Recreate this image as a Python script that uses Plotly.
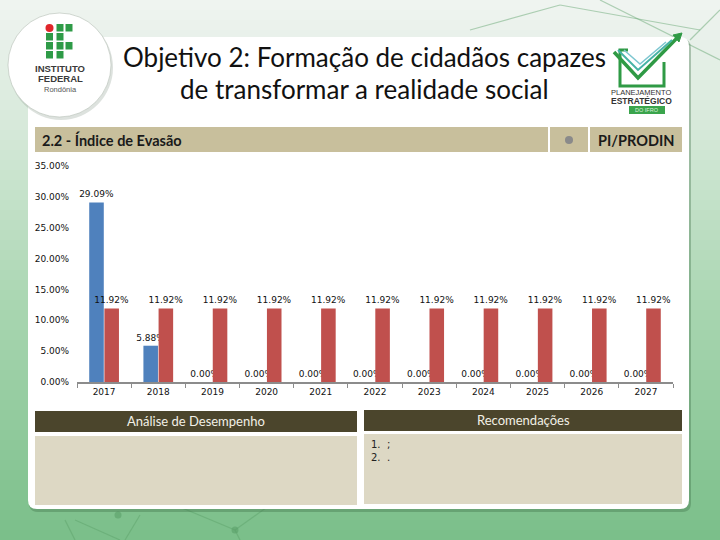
import plotly.graph_objects as go

# ---------------- data ----------------
years = ["2017", "2018", "2019", "2020", "2021", "2022", "2023", "2024", "2025", "2026", "2027"]
realizado = [29.09, 5.88, 0.00, 0.00, 0.00, 0.00, 0.00, 0.00, 0.00, 0.00, 0.00]
meta = [11.92, 11.92, 11.92, 11.92, 11.92, 11.92, 11.92, 11.92, 11.92, 11.92, 11.92]
y_ticks = [0, 5, 10, 15, 20, 25, 30, 35]

W, H = 720, 540


def px(x):
    return x / W


def py(y):
    return 1 - y / H


shapes = []
annotations = []

# ---------------- background gradient ----------------
stops = [(0, (240, 244, 241)), (120, (216, 234, 219)), (300, (170, 214, 178)), (540, (122, 191, 137))]


def grad(y):
    for (y0, c0), (y1, c1) in zip(stops[:-1], stops[1:]):
        if y0 <= y <= y1:
            t = (y - y0) / (y1 - y0)
            return "rgb(%d,%d,%d)" % tuple(round(a + (b - a) * t) for a, b in zip(c0, c1))
    return "rgb(%d,%d,%d)" % stops[-1][1]


step = 10
for y in range(0, H, step):
    shapes.append(dict(type="rect", xref="paper", yref="paper", layer="below",
                       x0=0, x1=1, y0=py(y + step + 1), y1=py(y),
                       fillcolor=grad(y + step / 2), line=dict(width=0)))

# faint network lines
net = [((470, 30), (560, 5)), ((560, 5), (700, 30)), ((600, 0), (720, 60)), ((690, 40), (720, 10)),
       ((65, 520), (75, 540)), ((75, 520), (120, 540)), ((140, 515), (125, 540)),
       ((175, 505), (235, 530)), ((235, 530), (270, 505)), ((235, 530), (240, 540))]
for (a, b) in net:
    shapes.append(dict(type="line", xref="paper", yref="paper", layer="below",
                       x0=px(a[0]), y0=py(a[1]), x1=px(b[0]), y1=py(b[1]),
                       line=dict(color="rgba(90,160,105,0.45)", width=1.2)))
for (cx, cy) in [(270, 505), (235, 530), (118, 515)]:
    shapes.append(dict(type="circle", xref="paper", yref="paper", layer="below",
                       x0=px(cx - 3.5), x1=px(cx + 3.5), y0=py(cy + 3.5), y1=py(cy - 3.5),
                       fillcolor="rgba(90,160,105,0.6)", line=dict(width=0)))


# ---------------- white rounded panel ----------------
def rounded(x0, y0, x1, y1, r):
    X = lambda v: px(v)
    Y = lambda v: py(v)
    return ("M %f,%f L %f,%f Q %f,%f %f,%f L %f,%f Q %f,%f %f,%f L %f,%f Q %f,%f %f,%f L %f,%f Q %f,%f %f,%f Z" % (
        X(x0 + r), Y(y0), X(x1 - r), Y(y0), X(x1), Y(y0), X(x1), Y(y0 + r),
        X(x1), Y(y1 - r), X(x1), Y(y1), X(x1 - r), Y(y1),
        X(x0 + r), Y(y1), X(x0), Y(y1), X(x0), Y(y1 - r),
        X(x0), Y(y0 + r), X(x0), Y(y0), X(x0 + r), Y(y0)))


shapes.append(dict(type="path", xref="paper", yref="paper", layer="below",
                   path=rounded(29, 39, 691, 512, 9), fillcolor="rgba(60,110,70,0.35)", line=dict(width=0)))
shapes.append(dict(type="path", xref="paper", yref="paper", layer="below",
                   path=rounded(28, 37, 689, 509, 9), fillcolor="white", line=dict(width=0)))


def rect(x0, y0, x1, y1, color, layer="below"):
    shapes.append(dict(type="rect", xref="paper", yref="paper", layer=layer,
                       x0=px(x0), x1=px(x1), y0=py(y1), y1=py(y0),
                       fillcolor=color, line=dict(width=0)))


# ---------------- header bar ----------------
TAN = "#c8bf9c"
rect(35, 127, 548, 152, TAN)
rect(550, 127, 588, 152, TAN)
rect(590, 127, 682, 152, TAN)
shapes.append(dict(type="circle", xref="paper", yref="paper", layer="below",
                   x0=px(565), x1=px(573), y0=py(144), y1=py(136),
                   fillcolor="#8a8a8a", line=dict(width=0)))
annotations.append(dict(text="<b>2.2 - Índice de Evasão</b>", x=px(40), y=py(140), xref="paper", yref="paper",
                        xanchor="left", yanchor="middle", showarrow=False,
                        font=dict(family="Lato", size=14.5, color="#1a1a1a")))
annotations.append(dict(text="<b>PI/PRODIN</b>", x=px(636), y=py(140), xref="paper", yref="paper",
                        xanchor="center", yanchor="middle", showarrow=False,
                        font=dict(family="Lato", size=14.5, color="#1a1a1a")))

# ---------------- bottom boxes ----------------
DARK = "#4b452c"
BOX = "#ddd8c4"
rect(35, 411, 357, 432, DARK)
rect(364, 410, 682, 431, DARK)
rect(35, 436, 357, 505, BOX)
rect(364, 434, 682, 504, BOX)
annotations.append(dict(text="Análise de Desempenho", x=px(196), y=py(421), xref="paper", yref="paper",
                        xanchor="center", yanchor="middle", showarrow=False,
                        font=dict(family="Lato", size=13, color="#f2f0e6")))
annotations.append(dict(text="Recomendações", x=px(523), y=py(420), xref="paper", yref="paper",
                        xanchor="center", yanchor="middle", showarrow=False,
                        font=dict(family="Lato", size=13, color="#f2f0e6")))
annotations.append(dict(text="1.  ;<br>2.  .", x=px(369), y=py(437), xref="paper", yref="paper",
                        xanchor="left", yanchor="top", showarrow=False, align="left",
                        font=dict(family="DejaVu Sans", size=10, color="#222222")))

# ---------------- title ----------------
annotations.append(dict(text="Objetivo 2: Formação de cidadãos capazes", x=px(364), y=py(57), xref="paper", yref="paper",
                        xanchor="center", yanchor="middle", showarrow=False,
                        font=dict(family="Lato", size=26, color="#111111")))
annotations.append(dict(text="de transformar a realidade social", x=px(364), y=py(89), xref="paper", yref="paper",
                        xanchor="center", yanchor="middle", showarrow=False,
                        font=dict(family="Lato", size=26, color="#111111")))

# ---------------- IFRO logo ----------------
shapes.append(dict(type="circle", xref="paper", yref="paper", layer="above",
                   x0=px(9), x1=px(113), y0=py(120), y1=py(15),
                   fillcolor="rgba(120,140,125,0.25)", line=dict(width=0)))
shapes.append(dict(type="circle", xref="paper", yref="paper", layer="above",
                   x0=px(8), x1=px(111), y0=py(117), y1=py(13),
                   fillcolor="white", line=dict(color="rgba(180,190,180,0.6)", width=1)))
GREEN = "#2e9b47"
cols = [(46, 53), (56.5, 63.5), (65.5, 72.5)]
rows = [(24, 31.5), (33, 40.5), (42, 49.5), (51, 58.5)]
grid = [[None, 1, 1], [1, 1, 0], [1, 1, 1], [1, 1, 0]]
for ri, row in enumerate(grid):
    for ci, v in enumerate(row):
        if v:
            x0, x1 = cols[ci]
            y0, y1 = rows[ri]
            rect(x0, y0, x1, y1, GREEN, layer="above")
shapes.append(dict(type="circle", xref="paper", yref="paper", layer="above",
                   x0=px(45.5), x1=px(53.5), y0=py(32), y1=py(24),
                   fillcolor="#e0262b", line=dict(width=0)))
annotations.append(dict(text="<b>INSTITUTO</b>", x=px(60), y=py(68.5), xref="paper", yref="paper",
                        xanchor="center", yanchor="middle", showarrow=False,
                        font=dict(family="Liberation Sans", size=9.5, color="#3a3a3a")))
annotations.append(dict(text="<b>FEDERAL</b>", x=px(60), y=py(79), xref="paper", yref="paper",
                        xanchor="center", yanchor="middle", showarrow=False,
                        font=dict(family="Liberation Sans", size=9.5, color="#3a3a3a")))
annotations.append(dict(text="Rondônia", x=px(60), y=py(90), xref="paper", yref="paper",
                        xanchor="center", yanchor="middle", showarrow=False,
                        font=dict(family="Liberation Sans", size=7.5, color="#555555")))

# ---------------- Planejamento logo ----------------
LG = "#2f9a45"
shapes.append(dict(type="path", xref="paper", yref="paper", layer="above",
                   path="M %f,%f L %f,%f L %f,%f L %f,%f L %f,%f" % (
                       px(628), py(50), px(620), py(50), px(620), py(86), px(664), py(86), px(664), py(62)),
                   line=dict(color=LG, width=3)))
shapes.append(dict(type="path", xref="paper", yref="paper", layer="above",
                   path="M %f,%f L %f,%f L %f,%f" % (px(614), py(52), px(638), py(78), px(678), py(37)),
                   line=dict(color=LG, width=3.5)))
shapes.append(dict(type="path", xref="paper", yref="paper", layer="above",
                   path="M %f,%f L %f,%f L %f,%f" % (px(618), py(50), px(638), py(70), px(672), py(40)),
                   line=dict(color="#46b3a6", width=2)))
shapes.append(dict(type="path", xref="paper", yref="paper", layer="above",
                   path="M %f,%f L %f,%f L %f,%f" % (px(624), py(50), px(640), py(64), px(666), py(42)),
                   line=dict(color="#7cc6d0", width=1.5)))
shapes.append(dict(type="path", xref="paper", yref="paper", layer="above",
                   path="M %f,%f L %f,%f L %f,%f Z" % (px(673), py(35), px(682), py(33), px(679), py(42)),
                   fillcolor=LG, line=dict(color=LG, width=1)))
annotations.append(dict(text="PLANEJAMENTO", x=px(641), y=py(92), xref="paper", yref="paper",
                        xanchor="center", yanchor="middle", showarrow=False,
                        font=dict(family="Liberation Sans", size=7.5, color="#333333")))
annotations.append(dict(text="<b>ESTRATÉGICO</b>", x=px(641), y=py(101), xref="paper", yref="paper",
                        xanchor="center", yanchor="middle", showarrow=False,
                        font=dict(family="Liberation Sans", size=8.5, color="#333333")))
rect(629, 106, 665, 114, "#3aa44c", layer="above")
annotations.append(dict(text="DO IFRO", x=px(647), y=py(110), xref="paper", yref="paper",
                        xanchor="center", yanchor="middle", showarrow=False,
                        font=dict(family="Liberation Sans", size=5.5, color="#d8f0d8")))

# ---------------- chart ----------------
BLUE = "#4f81bd"
RED = "#c0504d"
fig = go.Figure()
fig.add_trace(go.Bar(x=years, y=realizado, name="Realizado", marker=dict(color=BLUE, line=dict(width=0)),
                     text=["%.2f%%" % v for v in realizado], textposition="outside", constraintext="none",
                     textfont=dict(family="DejaVu Sans", size=9, color="#111111"), cliponaxis=False))
fig.add_trace(go.Bar(x=years, y=meta, name="Meta", marker=dict(color=RED, line=dict(width=0)),
                     text=["%.2f%%" % v for v in meta], textposition="outside", constraintext="none",
                     textfont=dict(family="DejaVu Sans", size=9, color="#111111"), cliponaxis=False))

fig.update_layout(
    template="none",
    width=W, height=H, margin=dict(l=0, r=0, t=0, b=0, pad=0, autoexpand=False),
    paper_bgcolor=grad(0), plot_bgcolor="rgba(0,0,0,0)",
    showlegend=False, barmode="group", bargap=0.44, bargroupgap=0.04,
    shapes=shapes, annotations=annotations,
    xaxis=dict(domain=[px(77), px(673)], type="category", showgrid=False, zeroline=False, automargin=False,
               showline=True, linecolor="#8c8c8c", linewidth=2,
               ticks="outside", tickson="boundaries", ticklen=4, tickcolor="#8c8c8c", tickwidth=1,
               tickfont=dict(family="DejaVu Sans", size=9, color="#111111"), fixedrange=True),
    yaxis=dict(domain=[py(382), py(166)], range=[0, 35], tickvals=y_ticks, automargin=False,
               ticktext=["%.2f%%" % v for v in y_ticks], showgrid=False, zeroline=False,
               showline=False, ticks="", ticklabelstandoff=7,
               tickfont=dict(family="DejaVu Sans", size=9, color="#111111"), fixedrange=True),
)

fig.write_html("out.html", config=dict(displayModeBar=False),
               post_script="document.body.style.margin='0';document.body.style.overflow='hidden';")
